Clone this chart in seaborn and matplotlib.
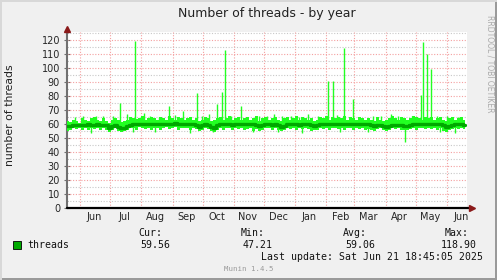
import numpy as np
import pandas as pd
import matplotlib
matplotlib.use("Agg")
import matplotlib.pyplot as plt
import matplotlib.dates as mdates
import seaborn as sns
from matplotlib.lines import Line2D
from matplotlib.patches import Rectangle

# ---------------- data ----------------
start_date = "2024-05-19"
step_days = 3

avg = [58.5, 58.8, 59.0, 59.2, 59.5, 59.6, 59.4, 59.8, 59.6, 59.5,
       59.7, 59.4, 59.6, 59.0, 57.4, 58.6, 59.3, 58.2, 57.0, 57.3,
       58.6, 59.5, 59.8, 60.0, 59.7, 59.9, 60.1, 59.8, 60.0, 60.2,
       59.9, 60.1, 60.3, 60.0, 59.8, 60.2, 60.4, 60.1, 59.9, 60.2,
       60.3, 60.0, 59.7, 59.2, 58.2, 59.0, 59.8, 59.5, 57.6, 57.4,
       59.0, 59.8, 60.0, 59.9, 60.1, 59.6, 60.0, 60.2, 59.8, 60.0,
       59.7, 59.9, 60.1, 59.6, 58.4, 59.5, 59.9, 60.0, 59.4, 59.8,
       59.2, 58.2, 58.8, 59.7, 59.9, 60.0, 59.8, 59.6, 60.1, 60.0,
       59.8, 59.6, 58.8, 59.3, 59.9, 60.2, 60.0, 59.8, 60.1, 60.3,
       60.0, 59.9, 60.2, 60.1, 59.8, 60.0, 60.3, 60.1, 59.7, 60.0,
       59.8, 59.2, 58.6, 59.3, 59.6, 58.4, 58.2, 58.8, 59.4, 59.6,
       59.5, 59.3, 58.9, 58.8, 59.2, 59.8, 60.0, 60.2, 59.9, 60.1,
       60.0, 59.8, 60.1, 60.0, 59.9, 59.6, 58.0, 58.6, 59.5, 59.9,
       60.0, 59.8, 59.6]

hi = [62, 61.5, 63, 62, 61, 64, 63, 62.5, 64, 65,
      63, 62, 64, 62.5, 61, 63, 64, 63, 61.5, 62,
      63, 65, 64, 63.5, 64, 66, 63, 64, 65, 64,
      63, 65, 64, 63, 66, 64.5, 63, 65, 64, 63,
      64, 65, 63, 64, 62, 63, 65, 64, 62, 63,
      64, 65, 63, 64, 66, 63, 64, 65, 63, 64,
      65, 63, 64, 66, 62, 64, 65, 63, 64, 65,
      63, 62, 64, 65, 63, 64, 66, 63, 65, 64,
      63, 64, 62, 63, 65, 64, 66, 63, 65, 64,
      65, 64, 66, 63, 65, 64, 63, 65, 64, 63,
      64, 63, 62, 65, 63, 62, 63, 64, 66, 64,
      63, 65, 64, 63, 64, 66, 65, 64, 63, 65,
      64, 65, 63, 64, 65, 63, 62, 64, 65, 63,
      64, 65, 63]

lo = [55, 56, 57, 56.5, 57, 56, 57.5, 56, 57, 56.5,
      57, 56, 57, 55.5, 54, 56, 57, 55, 54.5, 55,
      56, 57, 57.5, 56, 58, 57, 56.5, 57.5, 56, 57,
      57.5, 56, 57, 58, 56.5, 57, 58, 56, 57, 57.5,
      57, 56, 57.5, 56.5, 55, 56, 57, 56.5, 55, 54.5,
      56, 57, 56, 57.5, 57, 55.5, 57, 56.5, 57, 56,
      56.5, 57, 55, 56.5, 55, 56, 57, 57.5, 56, 57,
      55.5, 55, 56, 57, 56.5, 57, 56, 57.5, 56.5, 57,
      56.5, 55, 55.5, 56, 57, 56.5, 57.5, 56, 57, 57.5,
      56.5, 57, 56, 57.5, 57, 56, 57.5, 56.5, 57, 56,
      56.5, 56, 55, 56.5, 57, 55.5, 55, 56, 57, 56.5,
      57, 56, 55.5, 56, 56.5, 57, 56, 57.5, 57, 56.5,
      57, 56.5, 57, 56, 57.5, 55, 54.5, 55.5, 56.5, 57,
      56.5, 57, 56.5]

spike_dates = ["2024-06-04", "2024-07-11", "2024-07-26", "2024-08-04", "2024-08-28",
               "2024-09-11", "2024-09-25", "2024-10-15", "2024-10-20", "2024-10-23",
               "2024-11-08", "2024-12-04", "2025-02-03", "2025-02-08", "2025-02-19",
               "2025-02-28", "2025-05-06", "2025-05-08", "2025-05-12", "2025-05-16",
               "2025-06-01"]
spike_vals = [66, 75, 119, 68, 73,
              69, 82, 74, 83, 113,
              73, 66, 91, 91, 114,
              78, 81, 118.9, 110, 99,
              66]

minor_spike_dates = ["2024-05-27", "2024-06-17", "2024-06-24", "2024-07-04", "2024-07-18",
                     "2024-08-10", "2024-08-19", "2024-09-03", "2024-09-30", "2024-10-07",
                     "2024-10-29", "2024-11-14", "2024-11-26", "2024-12-11", "2024-12-19",
                     "2024-12-28", "2025-01-05", "2025-01-14", "2025-01-24", "2025-02-12",
                     "2025-03-06", "2025-03-19", "2025-03-27", "2025-04-06", "2025-04-13",
                     "2025-04-27", "2025-05-22", "2025-06-12"]
minor_spike_vals = [65, 66, 65.5, 66, 67,
                    66, 65, 66.5, 65.5, 67,
                    66, 65, 66, 67, 65.5,
                    66, 65, 67, 66, 66.5,
                    65, 66, 65.5, 67, 66,
                    65.5, 66, 65]

dip_dates = ["2024-06-12", "2024-07-24", "2024-08-15", "2024-09-18", "2024-10-11",
             "2024-11-20", "2024-12-15", "2025-01-08", "2025-02-15", "2025-03-14",
             "2025-04-20", "2025-05-25", "2025-06-09"]
dip_vals = [53.5, 54, 54.5, 53.8, 54.5,
            54, 54.5, 53.5, 54.5, 54,
            47.2, 54.5, 53.8]

month_labels = ["Jun", "Jul", "Aug", "Sep", "Oct", "Nov", "Dec",
                "Jan", "Feb", "Mar", "Apr", "May", "Jun"]
y_ticks = list(range(0, 121, 10))

legend_name = "threads"
cur_val, min_val, avg_val, max_val = "59.56", "47.21", "59.06", "118.90"
last_update = "Last update: Sat Jun 21 18:45:05 2025"

# ---------------- figure ----------------
sns.set_style("white")
plt.rcParams['font.family'] = ['DejaVu Sans']

W, H = 497, 280
fig = plt.figure(figsize=(W / 100, H / 100), dpi=100, facecolor='#f0f0f0')


def fx(x):
    return x / W


def fy(y):
    return 1 - y / H


# frame edges
fig.add_artist(Rectangle((fx(494.5), 0), fx(2.5), 1, transform=fig.transFigure,
                         facecolor='#9a9a9a', edgecolor='none'))
fig.add_artist(Rectangle((0, 0), 1, 1 - fy(2.5), transform=fig.transFigure,
                         facecolor='#9a9a9a', edgecolor='none'))
fig.add_artist(Rectangle((0, 0), fx(2), 1, transform=fig.transFigure,
                         facecolor='#d8d8d8', edgecolor='none'))
fig.add_artist(Rectangle((0, fy(2)), 1, 1 - fy(2), transform=fig.transFigure,
                         facecolor='#d8d8d8', edgecolor='none'))

ax = fig.add_axes([fx(67), fy(208), fx(467) - fx(67), fy(32.3) - fy(208)])
ax.set_facecolor('white')

dates = pd.date_range(start_date, periods=len(avg), freq=f"{step_days}D")
df = pd.DataFrame({"date": dates, "avg": avg, "hi": hi, "lo": lo})

bright = '#22ff22'
dark = '#00a800'

ax.fill_between(df["date"], df["lo"], df["hi"], step='mid', color=bright,
                linewidth=0, zorder=3)
sd = pd.to_datetime(spike_dates)
ax.vlines(sd, 60, spike_vals, color=bright, linewidth=1.0, zorder=3)
msd = pd.to_datetime(minor_spike_dates)
ax.vlines(msd, 60, minor_spike_vals, color=bright, linewidth=1.0, zorder=3)
dd = pd.to_datetime(dip_dates)
ax.vlines(dd, dip_vals, 58, color=bright, linewidth=1.0, zorder=3)
sns.lineplot(data=df, x="date", y="avg", ax=ax, color=dark, linewidth=2.4,
             drawstyle='steps-mid', zorder=4, legend=False)

x0 = pd.Timestamp("2024-05-19")
x1 = pd.Timestamp("2025-06-21")
ax.set_xlim(x0, x1)
ax.set_ylim(0, 125.5)

# grid
month_starts = pd.date_range("2024-06-01", "2025-06-01", freq="MS")
mid_months = month_starts + pd.Timedelta(days=14)
for y in range(5, 126, 10):
    ax.axhline(y, color='#c8c8c8', linewidth=0.8, linestyle=(0, (1, 1.5)), zorder=1)
for y in range(10, 121, 10):
    ax.axhline(y, color='#f4a0a0', linewidth=0.8, linestyle=(0, (1, 1.5)), zorder=1.5)
for m in month_starts:
    ax.axvline(m, color='#f4a0a0', linewidth=0.8, linestyle=(0, (1, 1.5)), zorder=1.5)

ax.set_yticks(y_ticks)
ax.set_yticks(range(5, 126, 10), minor=True)
ax.set_xticks(month_starts)
ax.set_xticklabels([])
ax.set_xticks(mid_months, minor=True)
ax.set_xticklabels(month_labels, minor=True)
ax.tick_params(axis='x', which='major', length=2, direction='out', color='#888888')
ax.tick_params(axis='x', which='minor', length=0, pad=3, labelsize=7)
ax.tick_params(axis='y', which='major', length=4, direction='inout', pad=3,
               labelsize=7, color='#707070', left=True)
ax.tick_params(axis='y', which='minor', length=2, direction='inout', color='#707070', left=True)
ax.set_xlabel("")
ax.set_ylabel("")

for s in ['top', 'right']:
    ax.spines[s].set_visible(False)
ax.spines['left'].set_color('#707070')
ax.spines['left'].set_linewidth(1.5)
ax.spines['bottom'].set_visible(False)

# x-axis baseline with arrow, y-axis extension with arrow
fig.add_artist(Line2D([fx(67), fx(470)], [fy(208), fy(208)], color='black',
                      linewidth=1.6, transform=fig.transFigure, zorder=5))
fig.add_artist(Line2D([fx(67), fx(67)], [fy(32.3), fy(30)], color='#707070',
                      linewidth=1.5, transform=fig.transFigure, zorder=5))
fig.add_artist(Line2D([fx(472)], [fy(208)], marker='>', markersize=5,
                      color='#8b1a1a', transform=fig.transFigure, zorder=6))
fig.add_artist(Line2D([fx(67)], [fy(29)], marker='^', markersize=5,
                      color='#8b1a1a', transform=fig.transFigure, zorder=6))

# texts
fig.text(fx(267), fy(13), "Number of threads - by year", ha='center', va='center',
         fontsize=9, color='#222222')
fig.text(fx(10), fy(115), "number of threads", rotation=90, ha='center',
         va='center', fontsize=7.8, color='#222222')
fig.text(fx(490), fy(15), "RRDTOOL / TOBI OETIKER", rotation=270, ha='center',
         va='top', fontsize=5.5, color='#aaaaaa')

mono = dict(family='DejaVu Sans Mono', fontsize=7.1, color='#111111', va='center')
fig.add_artist(Rectangle((fx(13), fy(248.5)), fx(8), 1 - fy(8), transform=fig.transFigure,
                         facecolor='#00aa00', edgecolor='black', linewidth=0.6))
fig.text(fx(27), fy(245), legend_name, ha='left', **mono)
fig.text(fx(162), fy(233), "Cur:", ha='right', **mono)
fig.text(fx(265), fy(233), "Min:", ha='right', **mono)
fig.text(fx(367), fy(233), "Avg:", ha='right', **mono)
fig.text(fx(469), fy(233), "Max:", ha='right', **mono)
fig.text(fx(170), fy(245), cur_val, ha='right', **mono)
fig.text(fx(273), fy(245), min_val, ha='right', **mono)
fig.text(fx(375), fy(245), avg_val, ha='right', **mono)
fig.text(fx(477), fy(245), max_val, ha='right', **mono)
fig.text(fx(483), fy(257), last_update, ha='right', **mono)
fig.text(fx(249), fy(269), "Munin 1.4.5", ha='center', va='center',
         family='DejaVu Sans Mono', fontsize=5.3, color='#999999')

fig.savefig("out.png", dpi=100, facecolor=fig.get_facecolor())
